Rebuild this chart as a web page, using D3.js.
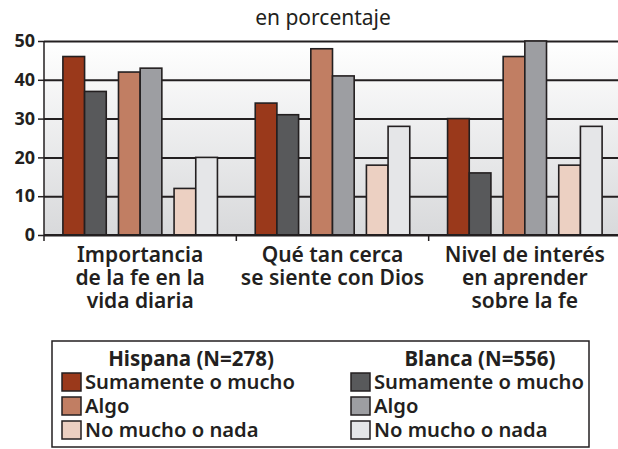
<!DOCTYPE html>
<html>
<head>
<meta charset="utf-8">
<script src="https://cdn.jsdelivr.net/npm/d3@7"></script>
<style>
  body { margin: 0; background: #fff; }
  svg { display: block; font-family: "Noto Sans", sans-serif; }
</style>
</head>
<body>
<svg id="chart" width="618" height="449"></svg>
<script>
// categorias (ejes x)
var categories = [
    ["Importancia", "de la fe en la", "vida diaria"],
    ["Qué tan cerca", "se siente con Dios"],
    ["Nivel de interés", "en aprender", "sobre la fe"]
];
var levels = ["Sumamente o mucho", "Algo", "No mucho o nada"];
var groups = ["Hispana (N=278)", "Blanca (N=556)"];

// valores por categoria, un valor por nivel
var hispana = [
    [46, 42, 12],
    [34, 48, 18],
    [30, 46, 18]
];
var blanca = [
    [37, 43, 20],
    [31, 41, 28],
    [16, 50, 28]
];
var yTicks = [0, 10, 20, 30, 40, 50];

var colHisp = ["#9a391b", "#c17e63", "#ecd0c2"];
var colBlan = ["#58595b", "#9d9ea2", "#e5e6e8"];
var ink = "#231f20";

(function() {
var svg = d3.select("#chart");
var mLeft = 44, mRight = 621, mTop = 41, mBottom = 235;

var x = d3.scaleBand().domain(d3.range(categories.length)).range([mLeft, mRight]);
var xLevel = d3.scaleBand().domain(d3.range(levels.length))
    .range([0, x.bandwidth()]).paddingInner(0.22).paddingOuter(0.34);
var xGroup = d3.scaleBand().domain([0, 1]).range([0, xLevel.bandwidth()]);
var y = d3.scaleLinear().domain([0, 50]).range([mBottom, mTop]);

// fondo degradado
var grad = svg.append("defs").append("linearGradient")
    .attr("id", "bg").attr("x1", 0).attr("y1", 0).attr("x2", 0).attr("y2", 1);
grad.append("stop").attr("offset", "0%").attr("stop-color", "#ffffff");
grad.append("stop").attr("offset", "100%").attr("stop-color", "#d8d9db");

svg.append("rect")
    .attr("x", mLeft).attr("y", mTop)
    .attr("width", 618 - mLeft).attr("height", mBottom - mTop)
    .attr("fill", "url(#bg)");

// titulo
svg.append("text")
    .attr("x", 323).attr("y", 25)
    .attr("text-anchor", "middle")
    .attr("font-size", 21)
    .attr("fill", ink)
    .text("en porcentaje");

// lineas de la cuadricula + eje y
var yAxis = d3.axisLeft(y).tickValues(yTicks).tickSize(-(618 - mLeft)).tickPadding(9);
var gy = svg.append("g").attr("transform", "translate(" + mLeft + ",0)").call(yAxis);
gy.select(".domain").remove();
gy.selectAll(".tick line").attr("stroke", ink).attr("stroke-width", 2);
gy.selectAll(".tick").append("line")
    .attr("x1", -6).attr("x2", 0).attr("stroke", ink).attr("stroke-width", 1.5);
gy.selectAll(".tick text")
    .attr("font-size", 18).attr("font-weight", 700)
    .attr("fill", ink).attr("font-family", "Noto Sans, sans-serif");

// barras
var cat = svg.append("g").selectAll("g")
    .data(categories.map(function(c, i) { return i; }))
    .enter().append("g")
    .attr("transform", function(i) { return "translate(" + x(i) + ",0)"; });

cat.each(function(ci) {
    var rows = [];
    levels.forEach(function(l, li) {
        rows.push({lv: li, g: 0, v: hispana[ci][li], c: colHisp[li]});
        rows.push({lv: li, g: 1, v: blanca[ci][li], c: colBlan[li]});
    });
    d3.select(this).selectAll("rect").data(rows).enter().append("rect")
        .attr("x", function(d) { return xLevel(d.lv) + xGroup(d.g); })
        .attr("y", function(d) { return y(d.v); })
        .attr("width", xGroup.bandwidth())
        .attr("height", function(d) { return y(0) - y(d.v); })
        .attr("fill", function(d) { return d.c; })
        .attr("stroke", ink).attr("stroke-width", 1.6);
});

// eje x
svg.append("line")
    .attr("x1", mLeft).attr("x2", 618).attr("y1", mBottom).attr("y2", mBottom)
    .attr("stroke", ink).attr("stroke-width", 2);
svg.append("line")
    .attr("x1", mLeft).attr("x2", mLeft).attr("y1", mTop).attr("y2", mBottom + 6)
    .attr("stroke", ink).attr("stroke-width", 1.5);
svg.selectAll(".xtick").data([1, 2]).enter().append("line")
    .attr("x1", function(i) { return x(i); }).attr("x2", function(i) { return x(i); })
    .attr("y1", mBottom).attr("y2", mBottom + 6)
    .attr("stroke", ink).attr("stroke-width", 1.5);

categories.forEach(function(lines, i) {
    var t = svg.append("text")
        .attr("x", x(i) + x.bandwidth() / 2)
        .attr("y", 262)
        .attr("text-anchor", "middle")
        .attr("font-size", 21).attr("font-weight", 600)
        .attr("fill", ink);
    lines.forEach(function(s, k) {
        t.append("tspan").attr("x", x(i) + x.bandwidth() / 2)
            .attr("dy", k === 0 ? 0 : 23).text(s);
    });
});

// leyenda
var lg = svg.append("g");
lg.append("rect")
    .attr("x", 52).attr("y", 341).attr("width", 537).attr("height", 106)
    .attr("fill", "#fff").attr("stroke", ink).attr("stroke-width", 1.5);

var legX = [62, 351];
var headX = [191, 480];
groups.forEach(function(g, gi) {
    lg.append("text")
        .attr("x", headX[gi]).attr("y", 366)
        .attr("text-anchor", "middle")
        .attr("font-size", 20.5).attr("font-weight", 700)
        .attr("fill", ink).text(g);
    var cols = gi === 0 ? colHisp : colBlan;
    levels.forEach(function(l, li) {
        var yy = 373 + li * 24;
        lg.append("text")
            .attr("x", legX[gi] + 23).attr("y", yy + 16)
            .attr("font-size", 20.2).attr("font-weight", 600)
            .attr("fill", ink).text(l);
        lg.append("rect")
            .attr("x", legX[gi]).attr("y", yy)
            .attr("width", 19).attr("height", 18)
            .attr("fill", cols[li]).attr("stroke", ink).attr("stroke-width", 1.5);
    });
});
})();
</script>
</body>
</html>
